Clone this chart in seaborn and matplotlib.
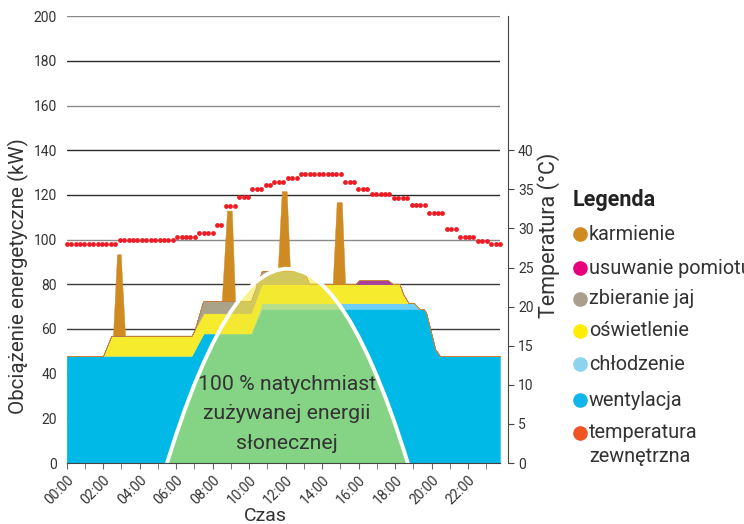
import numpy as np
import matplotlib
matplotlib.use("Agg")
import matplotlib.pyplot as plt
from matplotlib.lines import Line2D
import seaborn as sns

# -----------------------------
# data (hours, kW)
# -----------------------------
hour_max = 23.75

# stacked loads, bottom -> top (hour breakpoints, layer thickness in kW)
went_h = [0, 6.85, 7.5, 10.1, 10.7, 19.55, 19.7, 20.2, 20.45, 23.75]
went_kw = [48, 48, 58, 58, 69, 69, 67.5, 51, 48, 48]

chlod_h = [0, 10.1, 10.7, 19.05, 19.35, 23.75]
chlod_kw = [0, 0, 2.5, 2.5, 0, 0]

oswi_h = [0, 2.0, 2.45, 10.1, 10.7, 18.25, 18.45, 18.75, 23.75]
oswi_kw = [0, 0, 9, 9, 8.5, 8.5, 4, 0, 0]

jaja_h = [0, 7.0, 7.45, 10.1, 10.7, 13.0, 13.3, 23.75]
jaja_kw = [0, 0, 5.5, 5.5, 6, 6, 0, 0]

pomiot_h = [0, 15.8, 16.05, 17.6, 17.9, 23.75]
pomiot_kw = [0, 0, 2, 2, 0, 0]

karm_h = [0, 2.54, 2.76, 2.96, 3.2, 8.5, 8.79, 9.05, 9.23,
          11.57, 11.79, 12.06, 12.24, 14.58, 14.8, 15.08, 15.26, 23.75]
karm_kw = [0, 0, 36.5, 36.5, 0, 0, 40.5, 40.5, 0,
           0, 35.7, 35.7, 0, 0, 36.8, 36.8, 0, 0]

# solar production curve (half-hourly readings)
solar_h = [5.5, 6.0, 6.5, 7.0, 7.5, 8.0, 8.5, 9.0, 9.5, 10.0, 10.5, 11.0, 11.5, 12.0,
           12.5, 13.0, 13.5, 14.0, 14.5, 15.0, 15.5, 16.0, 16.5, 17.0, 17.5, 18.0, 18.5, 18.7]
solar_kw = [0, 12.7, 24.4, 35.1, 44.7, 53.4, 61.1, 67.8, 73.5, 78.2, 81.9, 84.6, 86.3, 87.0,
            86.7, 85.4, 83.1, 79.8, 75.5, 70.2, 63.9, 56.6, 48.3, 39.0, 28.8, 17.5, 5.2, 0]

# outside temperature (°C): level of each run of dots and number of dots in it
temp_levels = [28.0, 28.5, 28.9, 29.45, 30.5, 32.9, 34.0, 35.0, 35.5, 35.9, 36.45,
               37.0, 35.9, 35.0, 34.45, 33.95, 32.95, 31.95, 29.95, 28.95, 28.45, 27.95]
temp_counts = [12, 13, 5, 4, 2, 3, 3, 3, 2, 3, 3, 10, 3, 3, 5, 4, 4, 4, 3, 4, 3, 3]

layer_names = ["wentylacja", "chłodzenie", "oświetlenie", "zbieranie jaj",
               "usuwanie pomiotu", "karmienie"]
layer_colors = ["#00B9E6", "#6DCFF6", "#F6EB2C", "#ABA28A", "#A6409C", "#CF8A21"]

legend_labels = ["karmienie", "usuwanie pomiotu", "zbieranie jaj", "oświetlenie",
                 "chłodzenie", "wentylacja", "temperatura"]
legend_colors = ["#D08A22", "#E5007D", "#A8A08C", "#FFED00", "#8CD3F0", "#12B5EA", "#F05423"]

xtick_labels = ["%02d:00" % h for h in range(0, 24, 2)]

# -----------------------------
# figure
# -----------------------------
sns.set_style("white")
plt.rcParams["font.family"] = ["Roboto", "DejaVu Sans"]
narrow = ["DejaVu Sans Condensed", "Liberation Sans Narrow", "Roboto", "DejaVu Sans"]
txt = "#333333"

fig = plt.figure(figsize=(7.44, 5.24), dpi=100)
ax = fig.add_axes([0.0896, 0.1164, 0.5824, 0.8526])

# stacked areas
t = np.unique(np.concatenate([went_h, chlod_h, oswi_h, jaja_h, pomiot_h, karm_h]))
layers = [np.interp(t, h, v) for h, v in
          [(went_h, went_kw), (chlod_h, chlod_kw), (oswi_h, oswi_kw),
           (jaja_h, jaja_kw), (pomiot_h, pomiot_kw), (karm_h, karm_kw)]]
base = np.zeros_like(t)
for vals, col in zip(layers, layer_colors):
    ax.fill_between(t, base, base + vals, color=col, lw=0.3, zorder=2)
    base = base + vals

# solar energy overlay (yellow wash over the loads gives the green)
ax.fill_between(solar_h, 0, solar_kw, color="#F4E936", alpha=0.55, lw=0, zorder=3)
sns.lineplot(x=solar_h, y=solar_kw, ax=ax, color="white", lw=2.8, zorder=4,
             sort=False, estimator=None)

ax.text(12.08, 22.0, "100 % natychmiast\nzużywanej energii\nsłonecznej",
        ha="center", va="center", fontsize=15.3, color=txt, linespacing=1.68, zorder=5)

ax.set_xlim(0, hour_max)
ax.set_ylim(0, 200)
ax.set_yticks(range(0, 201, 20))
ax.yaxis.grid(True, color="#3a3a3a", lw=1)
ax.xaxis.grid(False)
ax.set_axisbelow(True)
grid_cols = ["#3a3a3a", "#3a3a3a", "#3a3a3a", "#3a3a3a", "#3a3a3a", "#8a8a8a",
             "#2a2a2a", "#2a2a2a", "#8a8a8a", "#2a2a2a", "#8a8a8a"]
for gl, gc in zip(ax.get_ygridlines(), grid_cols):
    gl.set_color(gc)
for s in ["left", "top", "right"]:
    ax.spines[s].set_visible(False)
ax.spines["bottom"].set_color("#444444")
ax.spines["bottom"].set_zorder(6)

ax.set_xticks(range(0, 24, 2))
ax.set_xticks(range(0, 24), minor=True)
ax.set_xticklabels(xtick_labels, rotation=45, ha="right", rotation_mode="anchor",
                   family=narrow, fontsize=10, color=txt)
ax.tick_params(axis="x", which="both", direction="out", length=4, color="#666666",
               bottom=True, pad=3)
ax.tick_params(axis="y", length=0, pad=7)
for lab in ax.get_yticklabels():
    lab.set_family(narrow)
    lab.set_fontsize(10)
    lab.set_color(txt)

ax.set_xlabel("Czas", fontsize=14, color=txt)
ax.xaxis.set_label_coords(0.4577, -0.119)
ax.xaxis.label.set_va("center")
ax.set_ylabel("Obciążenie energetyczne (kW)", fontsize=14.8, color=txt)
ax.yaxis.set_label_coords(-0.112, 0.4186)
ax.yaxis.label.set_va("center")

# temperature on the right axis (40 °C sits on the 140 kW line)
ax2 = ax.twinx()
ax2.set_ylim(0, 200 * 40 / 140)
ax2.set_yticks(range(0, 41, 5))
temp_vals = np.repeat(temp_levels, temp_counts)
temp_x = np.linspace(0, hour_max, len(temp_vals))
sns.scatterplot(x=temp_x, y=temp_vals, ax=ax2, color="#ED1C24", s=12, linewidth=0,
                zorder=5, clip_on=False)
for s in ["left", "top", "bottom"]:
    ax2.spines[s].set_visible(False)
ax2.spines["right"].set_position(("outward", 6))
ax2.spines["right"].set_color("#444444")
ax2.tick_params(axis="y", direction="out", length=4, color="#444444", pad=3)
for lab in ax2.get_yticklabels():
    lab.set_family(narrow)
    lab.set_fontsize(10)
    lab.set_color(txt)
ax2.set_ylabel("Temperatura (°C)", fontsize=15.5, color=txt)
ax2.yaxis.set_label_coords(1.111, 0.51)
ax2.yaxis.label.set_va("center")

# legend, drawn by hand
W, H = 744, 524
fig.text(573 / W, 1 - 200 / H, "Legenda", fontsize=15.5, weight="bold", color="#222222",
         va="center", ha="left")
item_y = [234, 268, 299, 331, 364, 400, 433]
for lab, col, y in zip(legend_labels, legend_colors, item_y):
    fig.add_artist(Line2D([580 / W], [1 - y / H], marker="o", markersize=9.5, color=col,
                          lw=0, transform=fig.transFigure))
    fig.text(589 / W, 1 - y / H, lab, fontsize=14.3, color=txt, va="center", ha="left")
fig.text(589 / W, 1 - 457 / H, "zewnętrzna", fontsize=14.3, color=txt, va="center", ha="left")

fig.savefig("out.png", dpi=100)
